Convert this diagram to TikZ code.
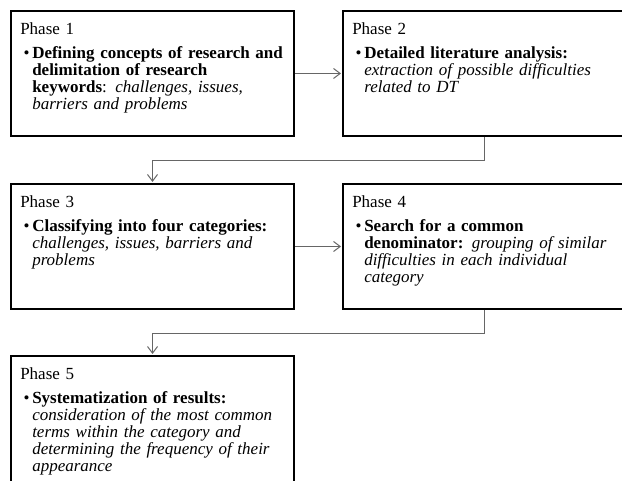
\documentclass[tikz,border=0pt]{standalone}
\usepackage{fontspec}
\setmainfont{Liberation Serif}
\usetikzlibrary{arrows.meta}
\newcommand{\phasefont}{\fontsize{12.75pt}{12.75pt}\selectfont}
\newcommand{\phasetext}[2]{\raggedright\noindent Phase #1\par\vspace{5.25pt}\hangindent=9pt\hangafter=1\noindent\makebox[9pt][l]{\hspace{2.5pt}\textbullet}#2\par}
\tikzset{box/.style={draw,line width=1.5pt,anchor=north west,minimum width=212.25pt,minimum height=93.75pt,inner sep=0pt},
txt/.style={anchor=north west,inner sep=0pt,text width=206pt,font=\phasefont},
link/.style={draw=black!60,line width=.75pt,shorten >=.75pt,-{Straight Barb[length=5pt,width=7.5pt]}}}
\begin{document}
\begin{tikzpicture}[x=.75pt,y=.75pt]
\useasboundingbox (0,0) rectangle (622,-481);
\clip (0,0) rectangle (622,-481);
\node[box] (p1) at (10,-10) {};\node[box] (p2) at (342,-10) {};
\node[box] (p3) at (10,-183) {};\node[box] (p4) at (342,-183) {};
\node[box,minimum height=112.5pt] (p5) at (10,-355) {};
\node[txt] (t1) at ([shift={(7.5pt,-9pt)}]p1.north west) {\phasetext{1}{\textbf{Defining concepts of research and\newline delimitation of research\newline keywords}: \textit{challenges, issues,\newline barriers and problems}}};
\node[txt] (t2) at ([shift={(7.5pt,-9pt)}]p2.north west) {\phasetext{2}{\textbf{Detailed literature analysis:}\newline\textit{extraction of possible difficulties\newline related to DT}}};
\node[txt] (t3) at ([shift={(7.5pt,-9pt)}]p3.north west) {\phasetext{3}{\textbf{Classifying into four categories:}\newline\textit{challenges, issues, barriers and\newline problems}}};
\node[txt] (t4) at ([shift={(7.5pt,-9pt)}]p4.north west) {\phasetext{4}{\textbf{Search for a common\newline denominator:} \textit{grouping of similar\newline difficulties in each individual\newline category}}};
\node[txt] (t5) at ([shift={(7.5pt,-9pt)}]p5.north west) {\phasetext{5}{\textbf{Systematization of results:}\newline\textit{consideration of the most common\newline terms within the category and\newline determining the frequency of their\newline appearance}}};
\foreach \a/\b in {p1/p2,p3/p4}{\draw[link] (\a) -- (\b);}
\foreach \a/\b in {p2/p3,p4/p5}{\draw[link] (\a.south) -- ++(0,-23.5) -| (\b.north);}
\end{tikzpicture}
\end{document}
